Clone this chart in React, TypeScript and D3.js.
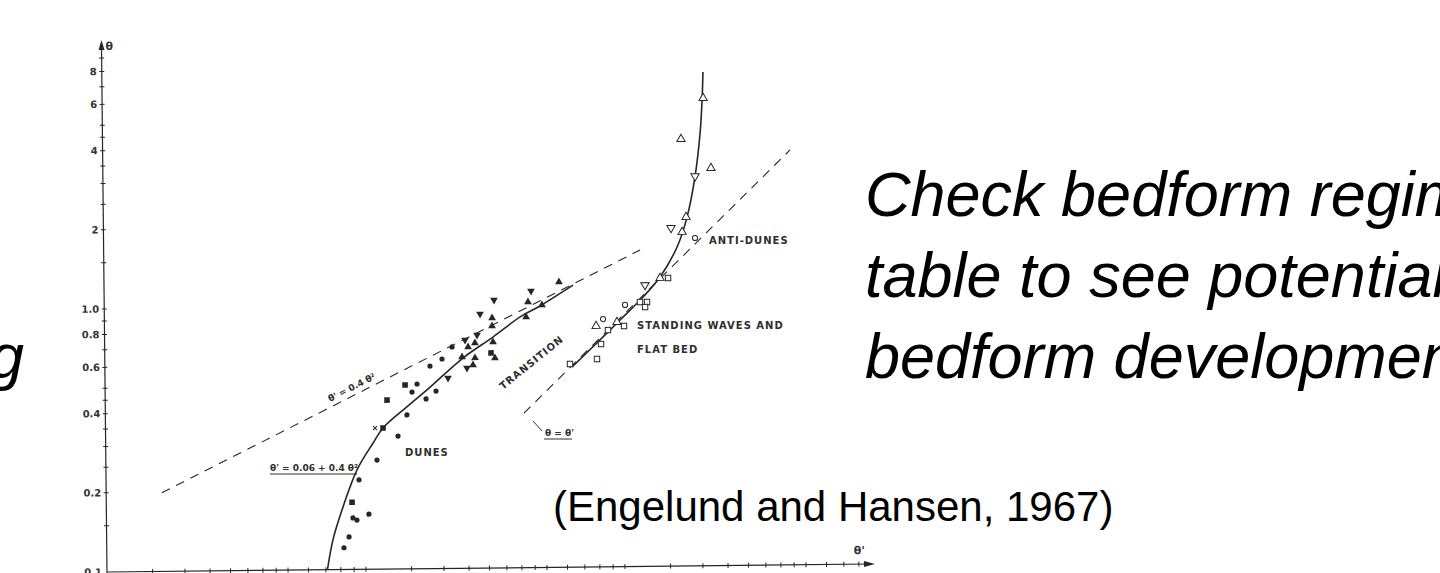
import { useMemo } from "react";
import * as d3 from "d3";

// Engelund & Hansen (1967) bedform chart: theta' (x) vs theta (y), log-log.
// Values are [theta', theta].

const duneCurve: [number, number][] = [
  [0.071, 0.1], [0.0748, 0.13], [0.082, 0.173], [0.0932, 0.239], [0.1078, 0.302],
  [0.1179, 0.344], [0.146, 0.413], [0.18, 0.49], [0.2415, 0.63], [0.316, 0.755],
  [0.403, 0.898], [0.4815, 0.987], [0.647, 1.18],
];

const upperCurve: [number, number][] = [
  [0.637, 0.577], [0.818, 0.729], [0.979, 0.866], [1.204, 1.058], [1.403, 1.258],
  [1.637, 1.633], [1.794, 2.12], [1.932, 3.01], [2.03, 4.42], [2.073, 5.9], [2.094, 7.54],
];

const dashedDuneLimit: [number, number][] = [[0.0164, 0.199], [1.178, 1.596]];
const dashedEqual: [number, number][] = [[0.4136, 0.387], [4.51, 3.78]];

const filledCircles: [number, number][] = [
  [0.0824, 0.121], [0.0863, 0.133], [0.0895, 0.157], [0.0927, 0.154], [0.0948, 0.219],
  [0.1114, 0.26], [0.1346, 0.32], [0.146, 0.385], [0.1733, 0.442], [0.1895, 0.473],
  [0.1531, 0.47], [0.1602, 0.504], [0.18, 0.589], [0.2004, 0.626], [0.2194, 0.695],
  [0.1032, 0.162],
];
const filledSquares: [number, number][] = [
  [0.0889, 0.18], [0.1225, 0.439], [0.144, 0.5], [0.1179, 0.344], [0.31, 0.657],
];
const crosses: [number, number][] = [[0.1098, 0.344]];
const filledDown: [number, number][] = [
  [0.2822, 0.925], [0.32, 1.044], [0.445, 1.126], [0.2463, 0.738], [0.2742, 0.77],
  [0.211, 0.53], [0.25, 0.577],
];
const filledUp: [number, number][] = [
  [0.314, 0.892], [0.571, 1.215], [0.425, 0.897], [0.4328, 1.023], [0.49, 0.995],
  [0.316, 0.723], [0.3137, 0.832], [0.2396, 0.636], [0.2687, 0.63], [0.264, 0.592],
  [0.253, 0.693], [0.269, 0.718], [0.321, 0.628],
];
const openSquares: [number, number][] = [
  [0.625, 0.592], [0.795, 0.617], [0.825, 0.703], [0.879, 0.794], [1.014, 0.822],
  [1.171, 1.012], [1.247, 1.012], [1.225, 0.968], [1.507, 1.246],
];
const openUp: [number, number][] = [
  [0.791, 0.824], [0.953, 0.851], [1.403, 1.247], [1.778, 2.122], [1.714, 1.862],
  [2.092, 6.0], [1.712, 4.2], [2.229, 3.25],
];
const openDown: [number, number][] = [[1.227, 1.174], [1.554, 1.93], [1.934, 3.03]];
const openCircles: [number, number][] = [[0.842, 0.875], [1.025, 0.988], [1.922, 1.764]];

const yTickValues = [0.15, 0.2, 0.25, 0.3, 0.35, 0.4, 0.45, 0.5, 0.6, 0.7, 0.8, 0.9, 1,
  1.5, 2, 2.5, 3, 3.5, 4, 4.5, 5, 6, 7, 8, 9];
const yLabelValues = [0.1, 0.2, 0.4, 0.6, 0.8, 1, 2, 4, 6, 8];
const yLabelTexts = ["0.1", "0.2", "0.4", "0.6", "0.8", "1.0", "2", "4", "6", "8"];
const xTickValues = [0.015, 0.02, 0.025, 0.03, 0.035, 0.04, 0.045, 0.05, 0.06, 0.07, 0.08, 0.09,
  0.1, 0.15, 0.2, 0.25, 0.3, 0.35, 0.4, 0.45, 0.5, 0.6, 0.7, 0.8, 0.9, 1,
  1.5, 2, 2.5, 3, 3.5, 4, 4.5, 5, 6, 7, 8];

const slideLines = ["Check bedform regime", "table to see potential", "bedform development"];

const INK = "#262626";
const SCAN_FONT = "'DejaVu Sans', sans-serif";

export default function App() {
  const width = 1440;
  const height = 573;
  const origin = { x: 107, y: 572 };

  const xScale = useMemo(() => d3.scaleLog().domain([0.01, 10]).range([0, 777]), []);
  const yScale = useMemo(() => d3.scaleLog().domain([0.1, 10]).range([0, -526]), []);

  const line = d3.line<[number, number]>()
    .x((d) => xScale(d[0]))
    .y((d) => yScale(d[1]))
    .curve(d3.curveCatmullRom.alpha(0.5));
  const straight = d3.line<[number, number]>()
    .x((d) => xScale(d[0]))
    .y((d) => yScale(d[1]));

  const tri = d3.symbol().type(d3.symbolTriangle).size(26)() ?? "";
  const triOpen = d3.symbol().type(d3.symbolTriangle).size(30)() ?? "";

  const pos = (d: [number, number]) => `translate(${xScale(d[0])},${yScale(d[1])})`;

  return (
    <svg width={width} height={height} style={{ position: "absolute", left: 0, top: 0, background: "#fff" }}
      fontFamily={SCAN_FONT}>
      <rect width={width} height={height} fill="#fff" />

      {/* scanned chart, slightly tilted like the scan */}
      <g transform={`translate(${origin.x},${origin.y}) rotate(-0.6)`}>
        {/* y axis */}
        <line x1={0} x2={0} y1={6} y2={-528} stroke={INK} strokeWidth={1.2} />
        <path d="M0,-532 L-3,-522 L3,-522 Z" fill={INK} />
        {yTickValues.map((v, i) => (
          <line key={`yt-${i}`} x1={-2.5} x2={2.5} y1={yScale(v)} y2={yScale(v)} stroke={INK} strokeWidth={1} />
        ))}
        {yLabelValues.map((v, i) => (
          <text key={`yl-${i}`} x={-5} y={yScale(v) + 3.5} textAnchor="end" fontSize={10} fontWeight="bold" fill="#333">
            {yLabelTexts[i]}
          </text>
        ))}
        <text x={4} y={-522} fontSize={11} fontWeight="bold" fill="#333">θ</text>

        {/* x axis */}
        <line x1={0} x2={762} y1={0} y2={0} stroke={INK} strokeWidth={1.2} />
        <path d="M768,0 L757,-3 L757,3 Z" fill={INK} />
        {xTickValues.map((v, i) => (
          <line key={`xt-${i}`} x1={xScale(v)} x2={xScale(v)} y1={-2.5} y2={2.5} stroke={INK} strokeWidth={1} />
        ))}
        <text x={747} y={-10} fontSize={11} fontWeight="bold" fill="#333">θ'</text>

        {/* dashed limits */}
        <path d={straight(dashedDuneLimit) ?? ""} fill="none" stroke={INK} strokeWidth={1.1} strokeDasharray="9,7" />
        <path d={straight(dashedEqual) ?? ""} fill="none" stroke={INK} strokeWidth={1.1} strokeDasharray="9,7" />

        {/* regime curves */}
        <path d={line(duneCurve) ?? ""} fill="none" stroke={INK} strokeWidth={1.6} />
        <path d={line(upperCurve) ?? ""} fill="none" stroke={INK} strokeWidth={1.6} />

        {/* data */}
        {filledCircles.map((d, i) => (
          <circle key={`fc-${i}`} transform={pos(d)} r={2.6} fill={INK} />
        ))}
        {filledSquares.map((d, i) => (
          <rect key={`fs-${i}`} transform={pos(d)} x={-2.8} y={-2.8} width={5.6} height={5.6} fill={INK} />
        ))}
        {crosses.map((d, i) => (
          <path key={`x-${i}`} transform={pos(d)} d="M-2,-2L2,2M-2,2L2,-2" stroke={INK} strokeWidth={1} />
        ))}
        {filledUp.map((d, i) => (
          <path key={`fu-${i}`} transform={pos(d)} d={tri} fill={INK} />
        ))}
        {filledDown.map((d, i) => (
          <path key={`fd-${i}`} transform={`${pos(d)} rotate(180)`} d={tri} fill={INK} />
        ))}
        {openSquares.map((d, i) => (
          <rect key={`os-${i}`} transform={pos(d)} x={-2.7} y={-2.7} width={5.4} height={5.4} fill="#fff" stroke={INK} strokeWidth={1} />
        ))}
        {openUp.map((d, i) => (
          <path key={`ou-${i}`} transform={pos(d)} d={triOpen} fill="#fff" stroke={INK} strokeWidth={1} />
        ))}
        {openDown.map((d, i) => (
          <path key={`od-${i}`} transform={`${pos(d)} rotate(180)`} d={triOpen} fill="#fff" stroke={INK} strokeWidth={1} />
        ))}
        {openCircles.map((d, i) => (
          <circle key={`oc-${i}`} transform={pos(d)} r={2.6} fill="#fff" stroke={INK} strokeWidth={1} />
        ))}
      </g>

      {/* region labels */}
      <g fill="#2e2e2e" fontSize={10} fontWeight="bold" letterSpacing={1}>
        <text x={405} y={456}>DUNES</text>
        <text x={503} y={390} transform="rotate(-39 503 390)">TRANSITION</text>
        <text x={637} y={329}>STANDING WAVES AND</text>
        <text x={637} y={353}>FLAT BED</text>
        <text x={709} y={244}>ANTI-DUNES</text>
      </g>

      {/* formula labels */}
      <g fill="#2e2e2e" fontSize={9} fontWeight="bold">
        <text x={330} y={402} transform="rotate(-27 330 402)">θ' = 0.4 θ²</text>
        <text x={270} y={471}>θ' = 0.06 + 0.4 θ²</text>
        <line x1={270} x2={357} y1={474} y2={474} stroke="#2e2e2e" strokeWidth={1} />
        <text x={545} y={436}>θ = θ'</text>
        <line x1={544} x2={572} y1={439} y2={439} stroke="#2e2e2e" strokeWidth={1} />
        <line x1={533} x2={542} y1={421} y2={431} stroke="#2e2e2e" strokeWidth={1} />
      </g>

      {/* slide text overlay */}
      <g fontFamily="'Liberation Sans', Arial, sans-serif" fill="#000">
        {slideLines.map((t, i) => (
          <text key={`sl-${i}`} x={865} y={216 + i * 81} fontSize={63} fontStyle="italic">{t}</text>
        ))}
        <text x={24} y={378} fontSize={63} fontStyle="italic" textAnchor="end">g</text>
        <text x={553} y={521} fontSize={42}>(Engelund and Hansen, 1967)</text>
      </g>
    </svg>
  );
}
